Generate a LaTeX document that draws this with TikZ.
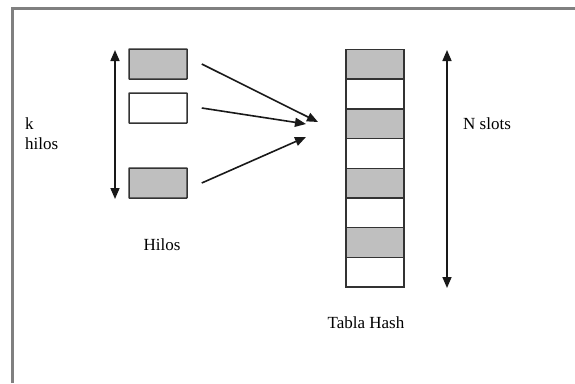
\documentclass[tikz,border=0pt]{standalone}
\usepackage{fontspec}
\setmainfont{Liberation Serif}
\usetikzlibrary{arrows.meta}
\begin{document}
\begin{tikzpicture}[x=1pt,y=-1pt,
  cell/.style={draw=black!80,line width=1.5pt,minimum width=58pt,minimum height=30pt,inner sep=0pt,rounded corners=0.5pt},
  graycell/.style={cell,fill=black!25},
  whitecell/.style={cell,fill=white},
  tcell/.style={draw=black!85,line width=1.5pt,minimum width=58pt,minimum height=29.7pt,inner sep=0pt},
  lbl/.style={font=\fontsize{17}{18}\selectfont,inner sep=0pt,text=black},
  arr/.style={line width=1.6pt,black!90,-{Triangle[length=11pt,width=9pt]}},
  darr/.style={line width=1.6pt,black!90,{Triangle[length=11pt,width=9pt]}-{Triangle[length=11pt,width=9pt]}}
]
\useasboundingbox (0,0) rectangle (575,383);
\fill[white] (0,0) rectangle (575,383);
% frame
\draw[line width=3pt,black!50] (12.5,383) -- (12.5,8.5) -- (575,8.5);
% thread boxes
\node[graycell] (t1) at (158,64) {};
\node[whitecell] (t2) at (158,108) {};
\node[graycell] (t3) at (158,183) {};
% k hilos arrow
\coordinate (ka) at (115,50);
\coordinate (kb) at (115,199);
\draw[darr] (ka) -- (kb);
\node[lbl,anchor=west] (k) at (25,124) {k};
\node[lbl,anchor=west] (hilos) at (25,144) {hilos};
\node[lbl] (hl) at (162,245) {Hilos};
% arrow targets
\coordinate (p1) at (318,122);
\coordinate (p2) at (306,124);
\coordinate (p3) at (306,137);
\draw[arr] ([xshift=14pt]t1.east) -- (p1);
\draw[arr] ([xshift=14pt]t2.east) -- (p2);
\draw[arr] ([xshift=14pt]t3.east) -- (p3);
% hash table
\foreach \i/\s in {0/graycell,1/whitecell,2/graycell,3/whitecell,4/graycell,5/whitecell,6/graycell,7/whitecell}{
  \node[tcell,\s,rounded corners=0pt,minimum height=29.7pt] (h\i) at (375,64.3+29.7*\i) {};
}
\coordinate (na) at (447,50);
\coordinate (nb) at (447,288);
\draw[darr] (na) -- (nb);
\node[lbl,anchor=west] (ns) at (463,124) {N slots};
\node[lbl] (th) at (366,323) {Tabla Hash};
\end{tikzpicture}
\end{document}
